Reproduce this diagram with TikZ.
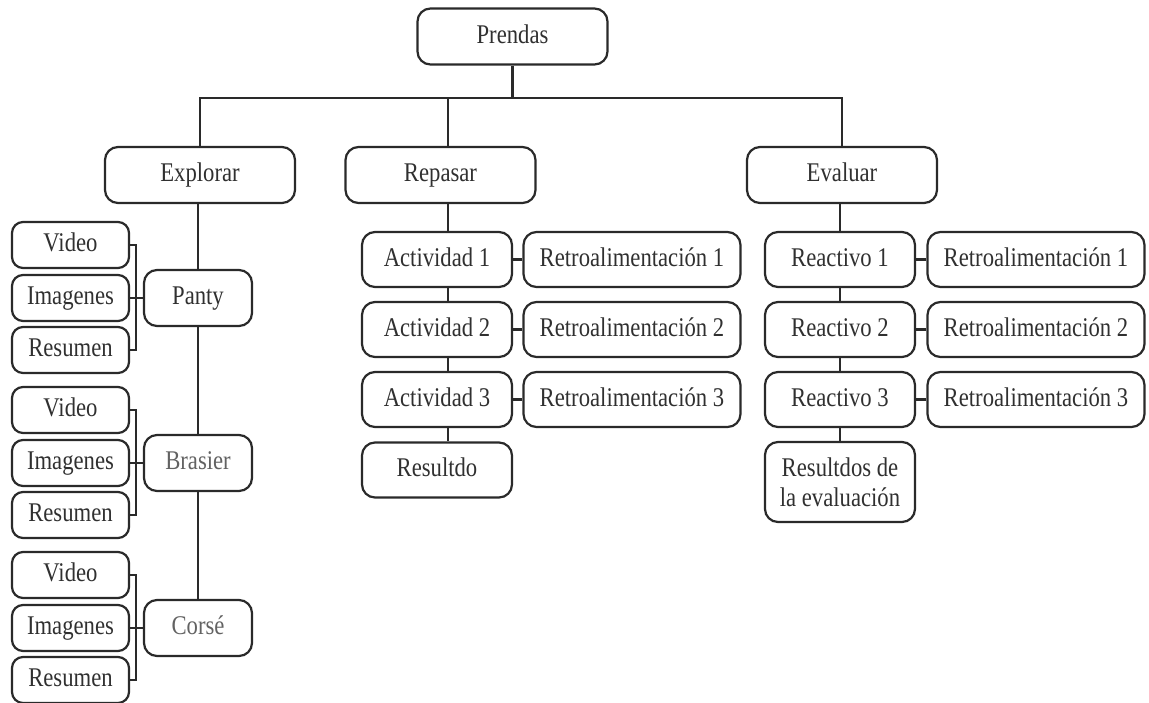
\documentclass[tikz,border=0pt]{standalone}
\usepackage{fontspec}
\setmainfont{Liberation Serif}[FakeStretch=0.84]
\definecolor{linegray}{HTML}{2A2A2A}
\definecolor{textgray}{HTML}{303030}
\definecolor{softgray}{HTML}{626262}
\begin{document}
\begin{tikzpicture}[x=1pt,y=-1pt,
  box/.style={draw=linegray, line width=2.2pt, rounded corners=13pt, inner sep=0pt,
    align=center, text=textgray, font=\fontsize{27}{30}\selectfont},
  oneline/.style={box, text height=19pt, text depth=6pt},
  headbox/.style={oneline, minimum width=190pt, minimum height=56pt},
  itembox/.style={oneline, minimum width=150pt, minimum height=55pt},
  fbbox/.style={oneline, minimum width=217pt, minimum height=55pt},
  garment/.style={oneline, minimum width=108pt, minimum height=56pt},
  media/.style={oneline, rounded corners=11pt, minimum width=117pt, minimum height=46pt},
  conn/.style={draw=linegray, line width=2.2pt}
]
\useasboundingbox (0,0) rectangle (1149,702);

% root and first level
\node[headbox] (prendas)  at (512.5,36.5) {Prendas};
\node[headbox] (explorar) at (200,175) {Explorar};
\node[headbox] (repasar)  at (440.5,175) {Repasar};
\node[headbox] (evaluar)  at (842,175) {Evaluar};

% Explorar branch
\node[garment] (panty)   at (198,298) {Panty};
\node[garment, text=softgray] (brasier) at (198,463) {Brasier};
\node[garment, text=softgray] (corse)   at (198,628) {Corsé};

\node[media] (v1) at (70.5,245) {Video};
\node[media] (i1) at (70.5,298) {Imagenes};
\node[media] (s1) at (70.5,350) {Resumen};
\node[media] (v2) at (70.5,410) {Video};
\node[media] (i2) at (70.5,463) {Imagenes};
\node[media] (s2) at (70.5,515) {Resumen};
\node[media] (v3) at (70.5,575) {Video};
\node[media] (i3) at (70.5,628) {Imagenes};
\node[media] (s3) at (70.5,680) {Resumen};

% Repasar branch
\node[itembox] (a1)  at (437,259.5) {Actividad 1};
\node[itembox] (a2)  at (437,329.5) {Actividad 2};
\node[itembox] (a3)  at (437,399.5) {Actividad 3};
\node[itembox] (res) at (437,470)   {Resultdo};
\node[fbbox] (fa1) at (632,259.5) {Retroalimentación 1};
\node[fbbox] (fa2) at (632,329.5) {Retroalimentación 2};
\node[fbbox] (fa3) at (632,399.5) {Retroalimentación 3};

% Evaluar branch
\node[itembox] (r1)  at (840,259.5) {Reactivo 1};
\node[itembox] (r2)  at (840,329.5) {Reactivo 2};
\node[itembox] (r3)  at (840,399.5) {Reactivo 3};
\node[box, minimum width=150pt, minimum height=80pt] (rese) at (840,482) {Resultdos de\\la evaluación};
\node[fbbox] (fr1) at (1036,259.5) {Retroalimentación 1};
\node[fbbox] (fr2) at (1036,329.5) {Retroalimentación 2};
\node[fbbox] (fr3) at (1036,399.5) {Retroalimentación 3};

% helper coordinates
\coordinate (bus)  at (512.5,98);
\coordinate (mcol) at (448,0);

% top bus
\draw[conn] (prendas.south) -- (bus);
\draw[conn] (explorar.north) -- (explorar.north |- bus) -- (evaluar.north |- bus) -- (evaluar.north);
\draw[conn] (bus -| mcol) -- (repasar.north -| mcol);

% Explorar column
\draw[conn] (explorar.south -| panty.north) -- (panty.north);
\draw[conn] (panty) -- (brasier);
\draw[conn] (brasier) -- (corse);

% media brackets
\draw[conn] (v1.east) -- ++(6,0) |- (s1.east);
\draw[conn] (i1.east) -- (panty.west);
\draw[conn] (v2.east) -- ++(6,0) |- (s2.east);
\draw[conn] (i2.east) -- (brasier.west);
\draw[conn] (v3.east) -- ++(6,0) |- (s3.east);
\draw[conn] (i3.east) -- (corse.west);

% Repasar column
\draw[conn] (repasar.south -| mcol) -- (a1.north -| mcol);
\draw[conn] (a1.south -| mcol) -- (a2.north -| mcol);
\draw[conn] (a2.south -| mcol) -- (a3.north -| mcol);
\draw[conn] (a3.south -| mcol) -- (res.north -| mcol);
\draw[conn] (a1) -- (fa1);
\draw[conn] (a2) -- (fa2);
\draw[conn] (a3) -- (fa3);

% Evaluar column
\draw[conn] (evaluar.south -| r1.north) -- (r1.north);
\draw[conn] (r1) -- (r2);
\draw[conn] (r2) -- (r3);
\draw[conn] (r3) -- (rese);
\draw[conn] (r1) -- (fr1);
\draw[conn] (r2) -- (fr2);
\draw[conn] (r3) -- (fr3);
\end{tikzpicture}
\end{document}
